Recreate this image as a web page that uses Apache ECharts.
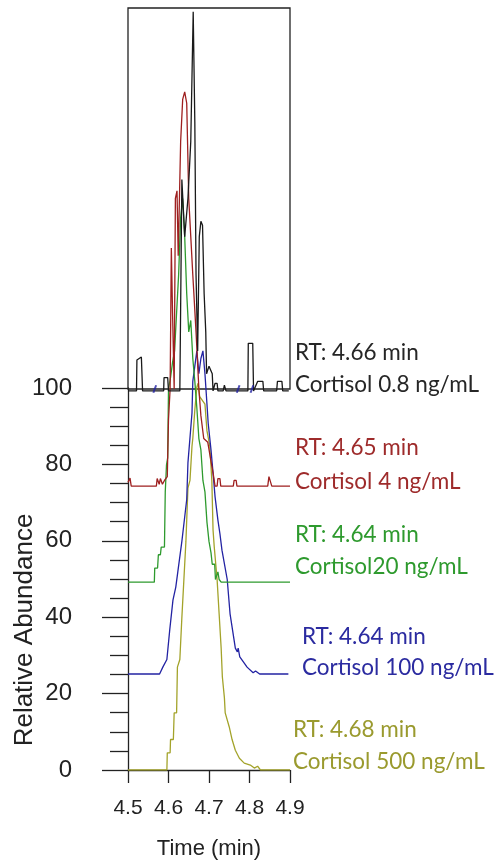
<!DOCTYPE html>
<html>
<head>
<meta charset="utf-8">
<script src="https://cdn.jsdelivr.net/npm/echarts@6/dist/echarts.min.js"></script>
<style>
html,body{margin:0;padding:0;background:#fff;}
#chart{width:497px;height:865px;}
</style>
</head>
<body>
<div id="chart"></div>
<script>
// ---- data (time in min, relative abundance incl. stacking offset) ----
const xTicks = [4.5, 4.6, 4.7, 4.8, 4.9];
const yTicks = [0, 20, 40, 60, 80, 100];

const blackTime  = [4.500,4.502,4.508,4.521,4.522,4.533,4.536,4.588,4.589,4.598,4.600,4.628,4.633,4.640,4.648,4.655,4.661,4.665,4.668,4.672,4.676,4.680,4.684,4.688,4.692,4.694,4.700,4.708,4.710,4.715,4.720,4.722,4.735,4.738,4.742,4.796,4.797,4.808,4.810,4.820,4.833,4.835,4.867,4.869,4.880,4.882,4.897];
const blackAbund = [99.5,100,99.5,99.5,107.6,108.4,99.5,99.5,103,103,99.5,99.5,155,140,150,165,199,170,130,110,140,144,143,125,115,104,106,104,99.5,101.5,101.5,99.5,99.5,101,99.5,99.5,112,112,99.5,102,102,99.5,99.5,102,102,99.5,99.5];

const redTime  = [4.500,4.505,4.508,4.570,4.572,4.577,4.580,4.585,4.590,4.597,4.600,4.604,4.607,4.610,4.614,4.617,4.621,4.624,4.630,4.635,4.640,4.645,4.650,4.655,4.660,4.668,4.675,4.680,4.687,4.697,4.705,4.710,4.715,4.720,4.722,4.727,4.729,4.760,4.762,4.767,4.769,4.845,4.848,4.852,4.855,4.900];
const redAbund = [75.5,76.6,74.5,74.5,76.5,75,76.5,75,76,77,92,100,137,120,100,150,152,135,165,176,178,175,150,140,130,115,100,93,87,86,81,78,74.5,74.5,76.5,76.5,74.5,74.5,76,76,74.5,74.5,77,77,74.5,74.5];

const greenTime  = [4.500,4.565,4.566,4.573,4.575,4.580,4.582,4.590,4.592,4.595,4.598,4.600,4.605,4.610,4.615,4.620,4.625,4.630,4.635,4.640,4.645,4.650,4.655,4.660,4.665,4.670,4.675,4.680,4.685,4.690,4.695,4.700,4.705,4.708,4.714,4.716,4.722,4.725,4.730,4.900];
const greenAbund = [49.3,49.3,53,53,56.5,56.5,58.5,58.5,73,80,82,100,103,107,110,120,130,145,150,140,125,115,118,108,102,95,87,84,76,73,65,60,57,54,54,50,52,50,49.3,49.3];

const blueTime  = [4.500,4.578,4.586,4.596,4.603,4.611,4.618,4.623,4.633,4.645,4.648,4.658,4.660,4.665,4.670,4.675,4.680,4.685,4.690,4.695,4.698,4.705,4.710,4.715,4.722,4.727,4.732,4.745,4.752,4.765,4.770,4.772,4.776,4.784,4.794,4.809,4.815,4.819,4.825,4.896];
const blueAbund = [25.2,25.2,27,29,36.7,44.6,48,52,60,71,80.6,93.7,102,106,110,104,108,110,104,96,91,84,78,71.7,65.6,62,57.7,50,41,32,31,32,29.7,28.5,27,25.5,26,25.8,25.2,25.2];

const oliveTime  = [4.500,4.596,4.597,4.604,4.605,4.612,4.614,4.620,4.622,4.628,4.633,4.638,4.643,4.648,4.653,4.658,4.660,4.665,4.670,4.673,4.677,4.690,4.695,4.702,4.707,4.710,4.713,4.720,4.725,4.730,4.733,4.738,4.740,4.750,4.757,4.765,4.775,4.787,4.802,4.812,4.820,4.827,4.900];
const oliveAbund = [0,0,4.5,4.5,8,8,15,15,27,29,40,50,60,74,76,85,87,94.5,100.5,101.5,98,96,89,85,76,63,58.5,50,41,32,24.4,19,15,11.3,8,5.2,3.1,1.8,1.3,0.5,1,0,0];

const markerTime  = [4.566, 4.772, 4.806];
const markerAbund = [100, 100, 100];

const labelRT   = ['RT: 4.66 min','RT: 4.65 min','RT: 4.64 min','RT: 4.64 min','RT: 4.68 min'];
const labelName = ['Cortisol 0.8 ng/mL','Cortisol 4 ng/mL','Cortisol20 ng/mL','Cortisol 100 ng/mL','Cortisol 500 ng/mL'];

const colors = {
  black: '#1a1a1a', red: '#9e1f1f', green: '#2e9a2e', blue: '#2323a3', olive: '#a3a32a'
};
const textColors = ['#262626', '#9e2b2b', '#2e9a2e', '#2b2ba0', '#9a9a2e'];

function zip(a, b) { return a.map((v, i) => [v, b[i]]); }

const chart = echarts.init(document.getElementById('chart'), null, {renderer: 'canvas'});

function lineSeries(name, t, v, color, w) {
  return {
    name: name, type: 'line', xAxisIndex: 0, yAxisIndex: 0,
    data: zip(t, v), showSymbol: false, symbol: 'none', silent: true,
    lineStyle: {color: color, width: w || 1.3}, itemStyle: {color: color},
    animation: false, z: 3
  };
}

const labelPos = [
  [295, 353, 385], [295, 448, 482], [295, 535, 567], [302, 637, 668], [293, 730, 762]
];
const graphics = [];
labelRT.forEach((t, i) => {
  graphics.push({type: 'text', x: labelPos[i][0], y: labelPos[i][1],
    style: {text: t, fill: textColors[i], font: '22.5px Lato', verticalAlign: 'middle', align: 'left'}});
  graphics.push({type: 'text', x: labelPos[i][0], y: labelPos[i][2],
    style: {text: labelName[i], fill: textColors[i], font: '22.5px Lato', verticalAlign: 'middle', align: 'left'}});
});
graphics.push({type: 'text', x: 25, y: 630, rotation: Math.PI / 2,
  style: {text: 'Relative Abundance', fill: '#222', font: '26px "Liberation Sans"', align: 'center', verticalAlign: 'middle'}});

const option = {
  animation: false,
  backgroundColor: '#fff',
  grid: [
    {left: 128, right: 207, top: 8, bottom: 95},
    {left: 128, right: 207, top: 388, bottom: 95},
    {left: 128, right: 207, top: 8, bottom: 476, show: true, borderColor: '#222', borderWidth: 1.3, backgroundColor: 'transparent'}
  ],
  xAxis: [
    {gridIndex: 0, type: 'value', min: 4.5, max: 4.9, interval: 0.1, offset: 3,
      axisLine: {show: true, lineStyle: {color: '#222', width: 1.3}},
      axisTick: {show: true, length: 13, lineStyle: {color: '#222', width: 1.3}},
      axisLabel: {color: '#222', fontSize: 21, fontFamily: 'Liberation Sans', margin: 25,
        formatter: v => xTicks.find(x => Math.abs(x - v) < 1e-6) !== undefined ? v.toFixed(1) : ''},
      splitLine: {show: false},
      name: 'Time (min)', nameLocation: 'middle', nameGap: 65,
      nameTextStyle: {color: '#222', fontSize: 22, fontFamily: 'Liberation Sans'}},
    {gridIndex: 1, type: 'value', min: 4.5, max: 4.9, show: false},
    {gridIndex: 2, type: 'value', min: 4.5, max: 4.9, show: false}
  ],
  yAxis: [
    {gridIndex: 0, type: 'value', min: 0, max: 200, show: false},
    {gridIndex: 1, type: 'value', min: 0, max: 100, interval: 20,
      axisLine: {show: true, lineStyle: {color: '#222', width: 1.3}},
      axisTick: {show: true, length: 26, lineStyle: {color: '#222', width: 1.3}},
      minorTick: {show: true, splitNumber: 4, length: 18, lineStyle: {color: '#222', width: 1.3}},
      axisLabel: {color: '#222', fontSize: 24, fontFamily: 'Liberation Sans', margin: 56,
        formatter: v => yTicks.indexOf(v) >= 0 ? String(v) : ''},
      splitLine: {show: false}},
    {gridIndex: 2, type: 'value', min: 100, max: 200, show: false}
  ],
  series: [
    lineSeries('Cortisol 500 ng/mL', oliveTime, oliveAbund, colors.olive),
    lineSeries('Cortisol 100 ng/mL', blueTime, blueAbund, colors.blue),
    lineSeries('Cortisol 20 ng/mL', greenTime, greenAbund, colors.green),
    lineSeries('Cortisol 4 ng/mL', redTime, redAbund, colors.red),
    lineSeries('Cortisol 0.8 ng/mL', blackTime, blackAbund, colors.black),
    {type: 'scatter', xAxisIndex: 0, yAxisIndex: 0, data: zip(markerTime, markerAbund),
      symbol: 'rect', symbolSize: [2, 8], symbolRotate: -20, silent: true,
      itemStyle: {color: colors.blue}, z: 4}
  ],
  graphic: graphics
};
chart.setOption(option);
</script>
</body>
</html>
